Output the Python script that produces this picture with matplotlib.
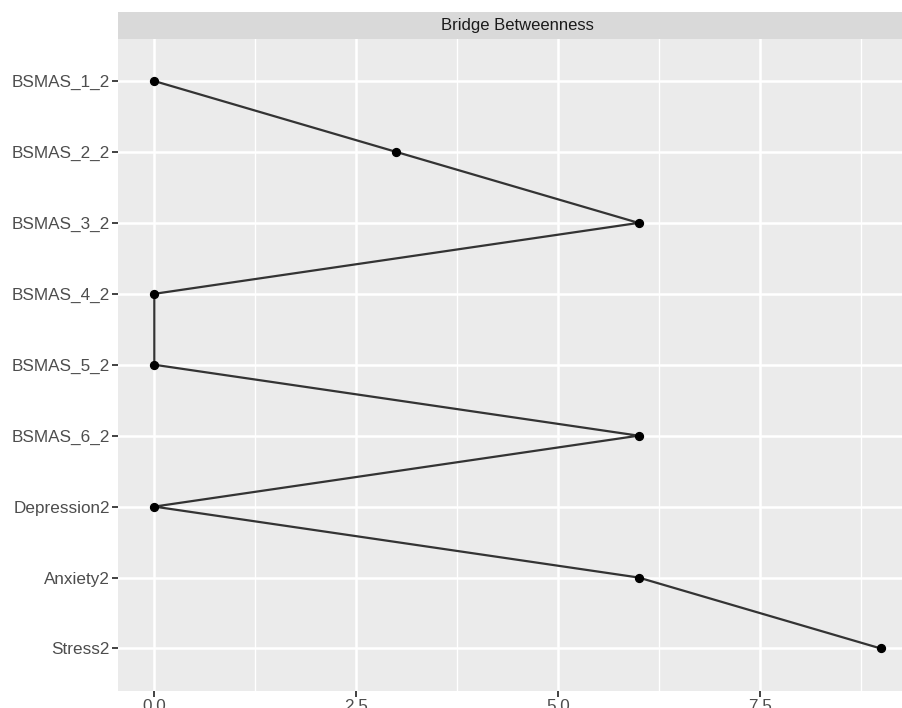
import numpy as np
import matplotlib.pyplot as plt

nodes = ['BSMAS_1_2', 'BSMAS_2_2', 'BSMAS_3_2', 'BSMAS_4_2', 'BSMAS_5_2',
         'BSMAS_6_2', 'Depression2', 'Anxiety2', 'Stress2']
bridge_betweenness = [0, 3, 6, 0, 0, 6, 0, 6, 9]
x_ticks = [0.0, 2.5, 5.0, 7.5]
x_minor = [1.25, 3.75, 6.25, 8.75]

plt.rcParams['font.family'] = ['Liberation Sans', 'DejaVu Sans']

W, H = 903, 708
fig = plt.figure(figsize=(W / 100, H / 100), dpi=100)

# panel, ggplot style (extends a little past the right edge)
left, right, top, bottom, strip_h = 118, 917, 38.5, 691, 26.5
ax = fig.add_axes([left / W, (H - bottom) / H, (right - left) / W, (bottom - top) / H])
ax.set_facecolor('#ebebeb')
for s in ax.spines.values():
    s.set_visible(False)

y = np.arange(len(nodes))
xmax = max(bridge_betweenness)
ax.set_xlim(-0.05 * xmax, xmax * 1.05)
ax.set_ylim(len(nodes) - 1 + 0.6, -0.6)

for xv in x_minor:
    ax.axvline(xv, color='white', lw=1.0, zorder=0)
for xv in x_ticks:
    ax.axvline(xv, color='white', lw=1.8, zorder=0)
for yv in y:
    ax.axhline(yv, color='white', lw=1.8, zorder=0)

ax.plot(bridge_betweenness, y, color='#333333', lw=1.6, zorder=2)
ax.scatter(bridge_betweenness, y, s=32, color='black', zorder=3)

ax.set_xticks(x_ticks)
ax.set_xticklabels([f'{v:.1f}' for v in x_ticks])
ax.set_yticks(y)
ax.set_yticklabels(nodes)
ax.tick_params(axis='both', colors='#333333', length=4, width=1.3, labelsize=12.3,
               labelcolor='#4d4d4d', pad=2)

# facet strip
strip = fig.add_axes([left / W, (H - top) / H, (right - left) / W, strip_h / H])
strip.set_facecolor('#d9d9d9')
strip.set_xticks([])
strip.set_yticks([])
for s in strip.spines.values():
    s.set_visible(False)
strip.text(0.5, 0.5, 'Bridge Betweenness', ha='center', va='center',
           fontsize=12, color='#1a1a1a', transform=strip.transAxes)

fig.savefig('out.png', dpi=100)
